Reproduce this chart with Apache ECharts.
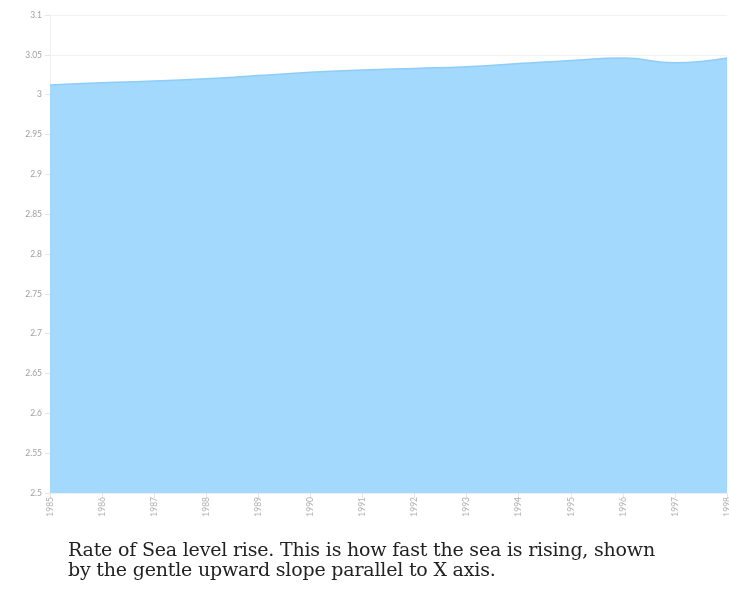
<!DOCTYPE html>
<html>
<head>
<meta charset="utf-8">
<script src="https://cdn.jsdelivr.net/npm/echarts@6/dist/echarts.min.js"></script>
<style>
html,body{margin:0;padding:0;background:#fff;}
#chart{position:absolute;left:0;top:0;width:729px;height:592px;}
#caption{position:absolute;left:68px;top:539px;width:660px;font-family:"DejaVu Serif",serif;font-size:19px;line-height:20px;color:#222;letter-spacing:-0.2px;white-space:nowrap;}
</style>
</head>
<body>
<div id="chart"></div>
<div id="caption">Rate of Sea level rise. This is how fast the sea is rising, shown<br>by the gentle upward slope parallel to X axis.</div>
<script>
var years = ['1985','1986','1987','1988','1989','1990','1991','1992','1993','1994','1995','1996','1997','1998'];
var seaLevelRate = [3.012, 3.015, 3.017, 3.020, 3.024, 3.028, 3.031, 3.033, 3.035, 3.039, 3.043, 3.046, 3.040, 3.046];
var yTicks = { min: 2.5, max: 3.1, interval: 0.05 };

var chart = echarts.init(document.getElementById('chart'));
chart.setOption({
  animation: false,
  grid: { left: 50, right: 2, top: 15, bottom: 99, outerBoundsMode: 'none', containLabel: false },
  xAxis: {
    type: 'category',
    data: years,
    boundaryGap: false,
    axisLine: { show: true, lineStyle: { color: '#eeeeee' } },
    axisTick: { show: true, alignWithLabel: true, lineStyle: { color: '#e6e6e6' } },
    axisLabel: { rotate: 90, fontSize: 8.5, color: '#b0b0b0', margin: 4, fontFamily: 'Lato' },
    splitLine: { show: false }
  },
  yAxis: {
    type: 'value',
    min: yTicks.min,
    max: yTicks.max,
    interval: yTicks.interval,
    axisLine: { show: true, lineStyle: { color: '#eeeeee' } },
    axisTick: { show: true, lineStyle: { color: '#e6e6e6' } },
    axisLabel: { fontSize: 8.5, color: '#a0a0a0', margin: 8, fontFamily: 'Lato' },
    splitLine: { show: true, lineStyle: { color: '#f2f2f2' } }
  },
  series: [{
    type: 'line',
    data: seaLevelRate,
    smooth: true,
    symbol: 'none',
    lineStyle: { color: '#8ecdf8', width: 1.5 },
    areaStyle: { color: '#a2d9fc', opacity: 1 }
  }]
});
</script>
</body>
</html>
